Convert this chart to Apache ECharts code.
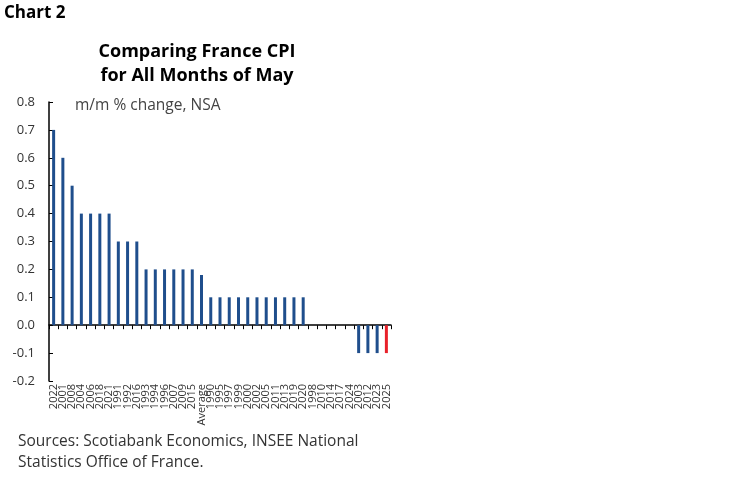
<!DOCTYPE html>
<html>
<head>
<meta charset="utf-8">
<script src="https://cdn.jsdelivr.net/npm/echarts@6/dist/echarts.min.js"></script>
<style>
  html, body { margin: 0; padding: 0; background: #fff; }
  #chart { width: 749px; height: 482px; }
</style>
</head>
<body>
<div id="chart"></div>
<script>
// May m/m % change, sorted high to low
var years = [
  '2022', '2001', '2008', '2004', '2006', '2018', '2021', '1991', '1992', '2016',
  '1993', '1994', '1996', '2007', '2009', '2015', 'Average',
  '1990', '1995', '1997', '1999', '2000', '2002', '2005', '2011', '2013', '2019', '2020',
  '1998', '2010', '2014', '2017', '2024',
  '2003', '2012', '2023', '2025'
];
var values = [
  0.7, 0.6, 0.5, 0.4, 0.4, 0.4, 0.4, 0.3, 0.3, 0.3,
  0.2, 0.2, 0.2, 0.2, 0.2, 0.2, 0.18,
  0.1, 0.1, 0.1, 0.1, 0.1, 0.1, 0.1, 0.1, 0.1, 0.1, 0.1,
  0, 0, 0, 0, 0,
  -0.1, -0.1, -0.1, -0.1
];
var yTicks = { min: -0.2, max: 0.8, step: 0.1 };
var latest = '2025';

var blue = '#1f4e8c';
var red = '#e8202a';
var font = '"Open Sans", Lato, sans-serif';

var barData = values.map(function (v, i) {
  return {
    value: v,
    itemStyle: { color: years[i] === latest ? red : blue }
  };
});

var chart = echarts.init(document.getElementById('chart'));
chart.setOption({
  animation: false,
  backgroundColor: '#fff',
  graphic: [
    { type: 'text', left: 4, top: 5,
      style: { text: 'Chart 2', font: 'bold 17px ' + font, fill: '#000' } },
    { type: 'text', x: 197, y: 40,
      style: { text: 'Comparing France CPI\nfor All Months of May', font: 'bold 18px ' + font,
               fill: '#000', align: 'center', lineHeight: 24 } },
    { type: 'text', left: 75, top: 98,
      style: { text: 'm/m % change, NSA', font: '15.5px ' + font, fill: '#444' } },
    { type: 'text', left: 18, top: 431,
      style: { text: 'Sources: Scotiabank Economics, INSEE National\nStatistics Office of France.',
               font: '15.5px ' + font, fill: '#333', lineHeight: 21 } }
  ],
  grid: { left: 49, right: 358, top: 102, bottom: 101 },
  xAxis: [
    {
      type: 'category',
      data: years,
      position: 'bottom',
      axisLine: { show: false, onZero: false },
      axisTick: { show: false },
      axisLabel: { rotate: 90, interval: 0, fontSize: 11, color: '#333',
                   fontFamily: font, margin: 3 }
    },
    {
      type: 'category',
      data: years,
      position: 'bottom',
      axisLine: { show: true, onZero: true, lineStyle: { color: '#000', width: 1.5 } },
      axisTick: { show: true, interval: 0, length: 4, lineStyle: { color: '#000' } },
      axisLabel: { show: false }
    }
  ],
  yAxis: {
    type: 'value',
    min: yTicks.min,
    max: yTicks.max,
    interval: yTicks.step,
    splitLine: { show: false },
    axisLine: { show: true, lineStyle: { color: '#000', width: 1.5 } },
    axisTick: { show: true, inside: true, length: 4, lineStyle: { color: '#000' } },
    axisLabel: {
      fontSize: 13, color: '#333', fontFamily: font, margin: 14,
      formatter: function (v) { return v.toFixed(1); }
    }
  },
  series: [{
    type: 'bar',
    xAxisIndex: 1,
    data: barData,
    barWidth: 3
  }]
});
</script>
</body>
</html>
